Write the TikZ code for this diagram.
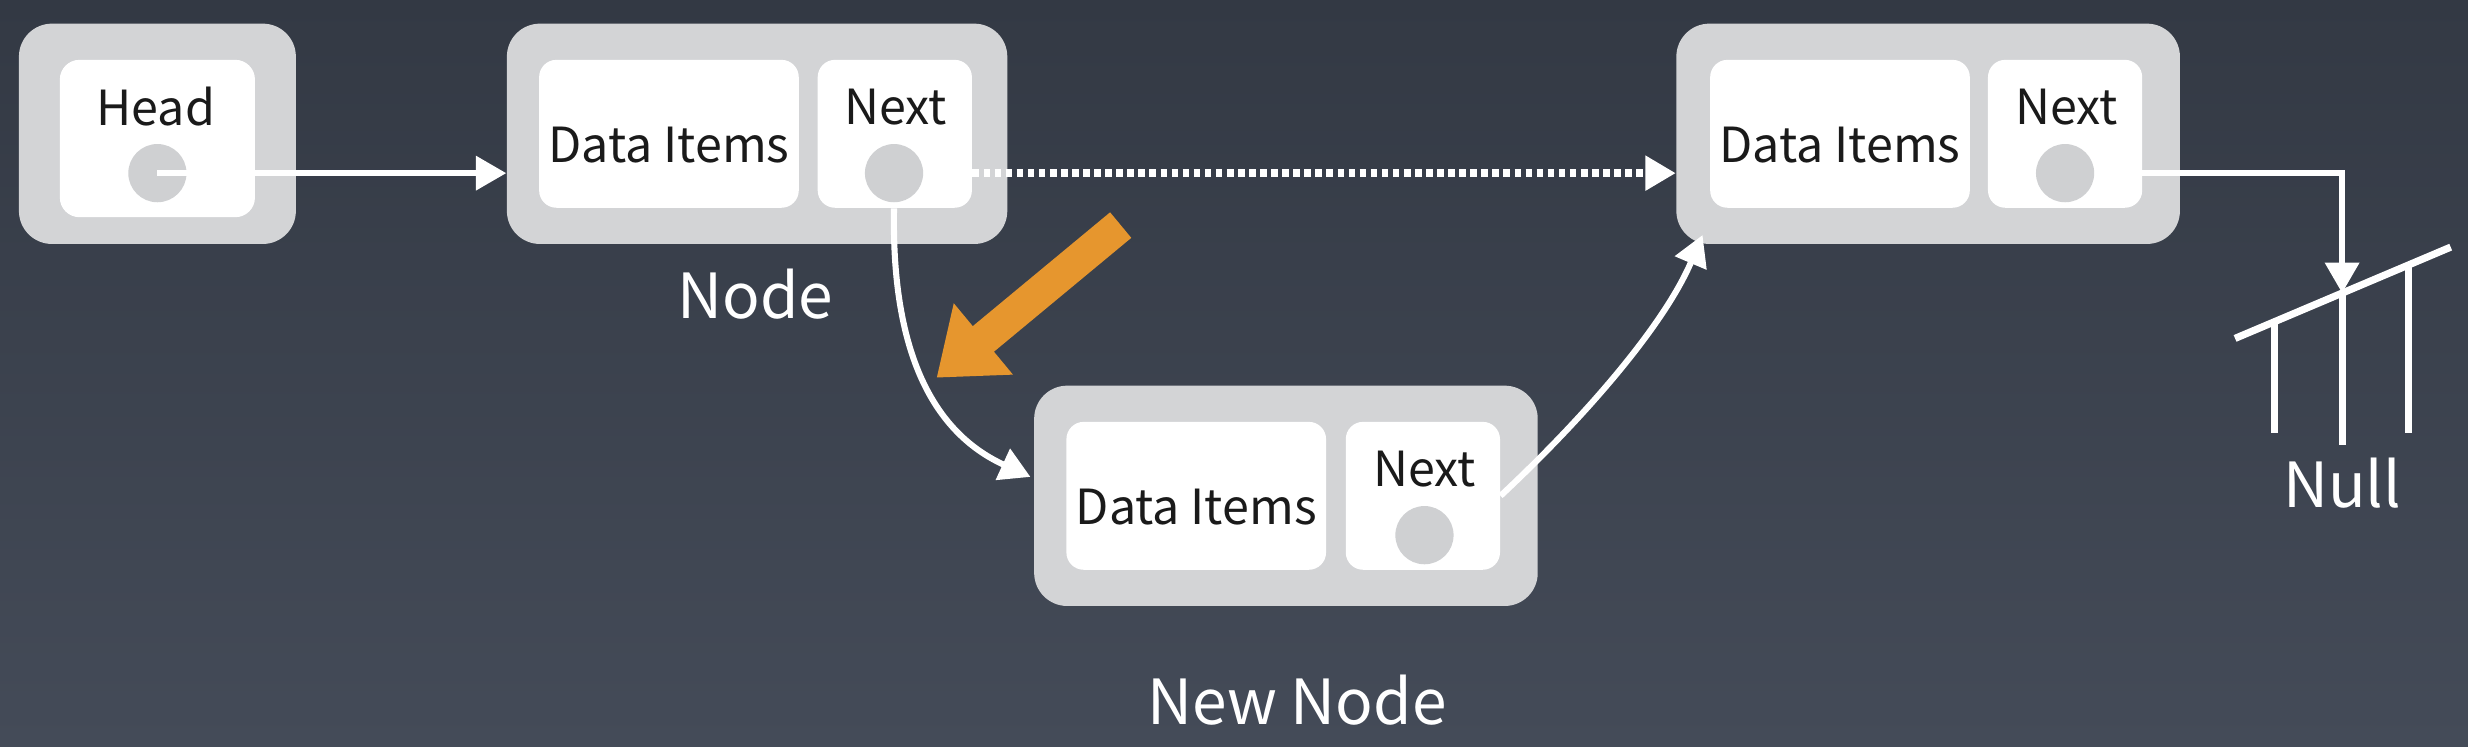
\documentclass[tikz,border=0pt]{standalone}
\usepackage{fontspec}
\setmainfont{Noto Sans CJK SC}
\usetikzlibrary{arrows.meta,calc}
\definecolor{bgtop}{HTML}{333944}
\definecolor{bgbot}{HTML}{444B58}
\definecolor{boxgray}{HTML}{D3D4D6}
\definecolor{dotgray}{HTML}{CFD0D2}
\definecolor{txtdark}{HTML}{1A1A1A}
\definecolor{orangearr}{HTML}{E6962E}
\begin{document}
\begin{tikzpicture}[x=0.02cm,y=-0.02cm,
  outerbox/.style={fill=boxgray,rounded corners=0.42cm,minimum width=6.4cm,minimum height=2.8cm,inner sep=0pt},
  databox/.style={fill=white,rounded corners=0.22cm,minimum width=3.3cm,minimum height=1.88cm,inner sep=0pt},
  nextbox/.style={fill=white,rounded corners=0.22cm,minimum width=1.96cm,minimum height=1.88cm,inner sep=0pt},
  ptr/.style={circle,fill=dotgray,minimum size=0.74cm,inner sep=0pt},
  boxtxt/.style={font=\fontsize{17.5}{20}\selectfont,text=txtdark,inner sep=0pt},
  label/.style={font=\fontsize{22.5}{26}\selectfont,text=white,inner sep=0pt},
  link/.style={draw=white,line width=2.2pt,-{Triangle[length=11pt,width=12pt]}},
  dotlink/.style={draw=white,line width=2.8pt,dash pattern=on 2.4pt off 1.6pt,-{Triangle[length=11pt,width=12pt]}},
  gline/.style={draw=white,line width=2.6pt}
]
\useasboundingbox (0,0) rectangle (1568,474);
\shade[top color=bgtop,bottom color=bgbot] (0,0) rectangle (1568,474);

% Head
\node[outerbox,minimum width=3.52cm] (hd) at (100,85) {};
\node[fill=white,rounded corners=0.25cm,minimum width=2.48cm,minimum height=2.0cm,inner sep=0pt] (hdin) at (100,88) {};
\node[boxtxt] (hdt) at (99,68) {Head};
\node[ptr] (hc) at (100,110) {};

% Node 1
\node[outerbox,minimum width=6.36cm] (n1) at (481,85) {};
\node[databox] (n1d) at (425,85) {};
\node[nextbox] (n1n) at (568.5,85) {};
\node[boxtxt] (n1dt) at (425,92) {Data Items};
\node[boxtxt] (n1nt) at (569,68) {Next};
\node[ptr] (n1c) at (568,110) {};
\node[label] (n1l) at (480,187) {Node};

% Node 3
\node[outerbox] (n3) at (1225,85) {};
\node[databox] (n3d) at (1169,85) {};
\node[nextbox] (n3n) at (1312,85) {};
\node[boxtxt] (n3dt) at (1169,92) {Data Items};
\node[boxtxt] (n3nt) at (1313,68) {Next};
\node[ptr] (n3c) at (1312,110) {};

% New node
\node[outerbox] (nn) at (817,315) {};
\node[databox] (nnd) at (760,315) {};
\node[nextbox] (nnn) at (904,315) {};
\node[boxtxt] (nndt) at (760,322) {Data Items};
\node[boxtxt] (nnnt) at (905,298) {Next};
\node[ptr] (nnc) at (905,340) {};
\node[label] (nnl) at (824,445) {New Node};

% Null ground
\coordinate (gA) at (1420,215);
\coordinate (gB) at (1557,157);
\coordinate (g1) at (1445,204.4);
\coordinate (g2) at (1488,186.2);
\coordinate (g3) at (1530,168.4);
\draw[gline] (gA) -- (gB);
\draw[gline] (g1) -- (1445,275);
\draw[gline] (g2) -- (1488,283);
\draw[gline] (g3) -- (1530,275);
\node[label] (nl) at (1488,307) {Null};

% connectors
\draw[link] (hc.center) -- (hc.center -| n1.west);
\draw[dotlink] (n1n.east |- n1c) -- (n1c -| n3.west);
\draw[link] (n3c.east) -| (g2);
\draw[link] (n1c |- n1n.south) .. controls (566,235) and (600,278) .. ($(nn.west)+(-2,-12)$);
\draw[link] (nnn.east) .. controls (1010,262) and (1058,205) .. ($(n3.south west)+(17,-6)$);

% orange arrow
\coordinate (oA) at (712,143);
\coordinate (oB) at (595,240);
\draw[draw=orangearr,line width=12pt,-{Triangle[length=22pt,width=32pt]}] (oA) -- (oB);
\end{tikzpicture}
\end{document}
